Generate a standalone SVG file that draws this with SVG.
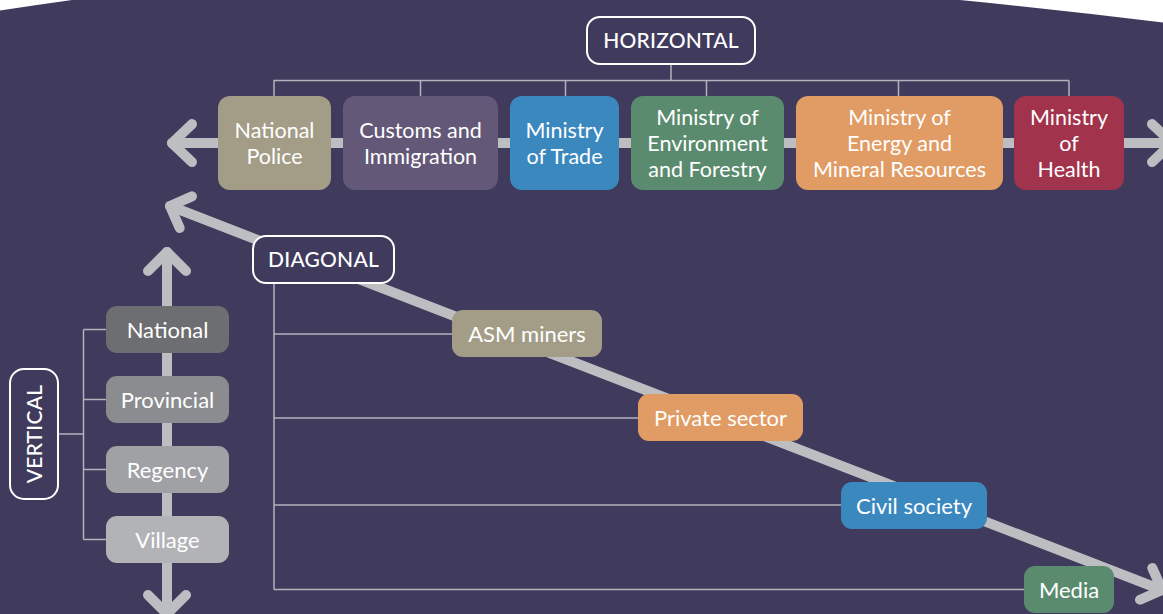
<svg xmlns="http://www.w3.org/2000/svg" width="1163" height="614" viewBox="0 0 1163 614">
  <defs>
    <style>
      .bg { fill: #403a5d; }
      .arrow { fill: none; stroke: #bdbec1; stroke-width: 10; stroke-linecap: round; stroke-linejoin: round; }
      .link { fill: none; stroke: #b3b3bb; stroke-width: 1.5; }
      .label { fill: #403a5d; stroke: #ffffff; stroke-width: 2; }
      .ltxt { font-family: Lato, "Open Sans", sans-serif; font-size: 21px; font-weight: 500; fill: #ffffff; text-anchor: middle; letter-spacing: 0.2px; }
      .ntxt { font-family: Lato, "Open Sans", sans-serif; font-size: 22px; fill: #ffffff; text-anchor: middle; }
      .mtxt { font-family: Lato, "Open Sans", sans-serif; font-size: 21.5px; fill: #ffffff; text-anchor: middle; }
    </style>
  </defs>

  <!-- backdrop with curved upper edge -->
  <rect width="1163" height="614" fill="#ffffff"/>
  <path class="bg" d="M0,10.5 Q36,5 72,0 L960,0 Q1062,10 1163,22.5 V614 H0 Z"/>

  <!-- axis arrows and tree connectors -->
  <g id="connectors">
    <!-- horizontal axis -->
    <line class="arrow" x1="172" y1="143" x2="1172" y2="143"/>
    <polyline class="arrow" points="192,124 172,143 192,162"/>
    <polyline class="arrow" points="1152,124 1172,143 1152,162"/>
    <!-- vertical axis -->
    <line class="arrow" x1="167" y1="252" x2="167" y2="616"/>
    <polyline class="arrow" points="148,271 167,252 186,271"/>
    <polyline class="arrow" points="148,595 167,614 186,595"/>
    <!-- diagonal axis -->
    <line class="arrow" x1="170" y1="206" x2="1162" y2="590"/>
    <polyline class="arrow" points="192,196.3 170,206 179.7,228"/>
    <polyline class="arrow" points="1152.3,568 1162,590 1140,599.7"/>

    <!-- horizontal tree -->
    <line class="link" x1="671" y1="64" x2="671" y2="80.5"/>
    <line class="link" x1="273.5" y1="80.5" x2="1069" y2="80.5"/>
    <line class="link" x1="274" y1="80.5" x2="274" y2="96"/>
    <line class="link" x1="420.5" y1="80.5" x2="420.5" y2="96"/>
    <line class="link" x1="565.5" y1="80.5" x2="565.5" y2="96"/>
    <line class="link" x1="706.5" y1="80.5" x2="706.5" y2="96"/>
    <line class="link" x1="898.5" y1="80.5" x2="898.5" y2="96"/>
    <line class="link" x1="1069" y1="80.5" x2="1069" y2="96"/>

    <!-- vertical tree -->
    <line class="link" x1="58" y1="434" x2="83.5" y2="434"/>
    <line class="link" x1="83.5" y1="329.5" x2="83.5" y2="539.5"/>
    <line class="link" x1="83.5" y1="329.5" x2="106" y2="329.5"/>
    <line class="link" x1="83.5" y1="399.5" x2="106" y2="399.5"/>
    <line class="link" x1="83.5" y1="469.5" x2="106" y2="469.5"/>
    <line class="link" x1="83.5" y1="539.5" x2="106" y2="539.5"/>

    <!-- diagonal tree -->
    <line class="link" x1="274" y1="283" x2="274" y2="589.5"/>
    <line class="link" x1="274" y1="334" x2="452" y2="334"/>
    <line class="link" x1="274" y1="418" x2="638" y2="418"/>
    <line class="link" x1="274" y1="505" x2="841" y2="505"/>
    <line class="link" x1="274" y1="589.5" x2="1024" y2="589.5"/>
  </g>

  <!-- axis labels -->
  <g id="horizontal-label">
    <rect class="label" x="587" y="17" width="168" height="47" rx="13"/>
    <text class="ltxt" x="671" y="48">HORIZONTAL</text>
  </g>
  <g id="diagonal-label">
    <rect class="label" x="253" y="236" width="141" height="47" rx="13"/>
    <text class="ltxt" x="323.5" y="267">DIAGONAL</text>
  </g>
  <g id="vertical-label">
    <rect class="label" x="10" y="369" width="48" height="130" rx="14"/>
    <text class="ltxt" transform="translate(41.5 434) rotate(-90)">VERTICAL</text>
  </g>

  <!-- horizontal row -->
  <g id="national-police">
    <rect x="218" y="96" width="113" height="94" rx="12" fill="#a39d88"/>
    <text class="mtxt" x="274.5" y="138">National</text>
    <text class="mtxt" x="274.5" y="164">Police</text>
  </g>
  <g id="customs">
    <rect x="343" y="96" width="155" height="94" rx="12" fill="#635878"/>
    <text class="mtxt" x="420.5" y="138">Customs and</text>
    <text class="mtxt" x="420.5" y="164">Immigration</text>
  </g>
  <g id="ministry-trade">
    <rect x="510" y="96" width="109" height="94" rx="12" fill="#3b88bf"/>
    <text class="mtxt" x="564.5" y="138">Ministry</text>
    <text class="mtxt" x="564.5" y="164">of Trade</text>
  </g>
  <g id="ministry-environment">
    <rect x="631" y="96" width="153" height="94" rx="12" fill="#5a8b6e"/>
    <text class="mtxt" x="707.5" y="125">Ministry of</text>
    <text class="mtxt" x="707.5" y="151">Environment</text>
    <text class="mtxt" x="707.5" y="177">and Forestry</text>
  </g>
  <g id="ministry-energy">
    <rect x="796" y="96" width="207" height="94" rx="12" fill="#e09c64"/>
    <text class="mtxt" x="899.5" y="125">Ministry of</text>
    <text class="mtxt" x="899.5" y="151">Energy and</text>
    <text class="mtxt" x="899.5" y="177">Mineral Resources</text>
  </g>
  <g id="ministry-health">
    <rect x="1014" y="96" width="110" height="94" rx="12" fill="#a1334c"/>
    <text class="mtxt" x="1069" y="125">Ministry</text>
    <text class="mtxt" x="1069" y="151">of</text>
    <text class="mtxt" x="1069" y="177">Health</text>
  </g>

  <!-- vertical column -->
  <g id="national">
    <rect x="106" y="306" width="123" height="47" rx="11" fill="#6d6e71"/>
    <text class="ntxt" x="167.5" y="337.5">National</text>
  </g>
  <g id="provincial">
    <rect x="106" y="376" width="123" height="47" rx="11" fill="#8b8c8f"/>
    <text class="ntxt" x="167.5" y="407.5">Provincial</text>
  </g>
  <g id="regency">
    <rect x="106" y="446" width="123" height="47" rx="11" fill="#a0a1a4"/>
    <text class="ntxt" x="167.5" y="477.5">Regency</text>
  </g>
  <g id="village">
    <rect x="106" y="516" width="123" height="47" rx="11" fill="#b1b3b6"/>
    <text class="ntxt" x="167.5" y="547.5">Village</text>
  </g>

  <!-- diagonal chain -->
  <g id="asm-miners">
    <rect x="452" y="310" width="150" height="47" rx="11" fill="#a39d88"/>
    <text class="ntxt" x="527" y="341.5">ASM miners</text>
  </g>
  <g id="private-sector">
    <rect x="638" y="394" width="165" height="47" rx="11" fill="#e09c64"/>
    <text class="ntxt" x="720.5" y="425.5">Private sector</text>
  </g>
  <g id="civil-society">
    <rect x="841" y="482" width="146" height="47" rx="11" fill="#3b88bf"/>
    <text class="ntxt" x="914" y="513.5">Civil society</text>
  </g>
  <g id="media">
    <rect x="1024" y="566" width="90" height="47" rx="11" fill="#5a8b6e"/>
    <text class="ntxt" x="1069" y="597.5">Media</text>
  </g>
</svg>
